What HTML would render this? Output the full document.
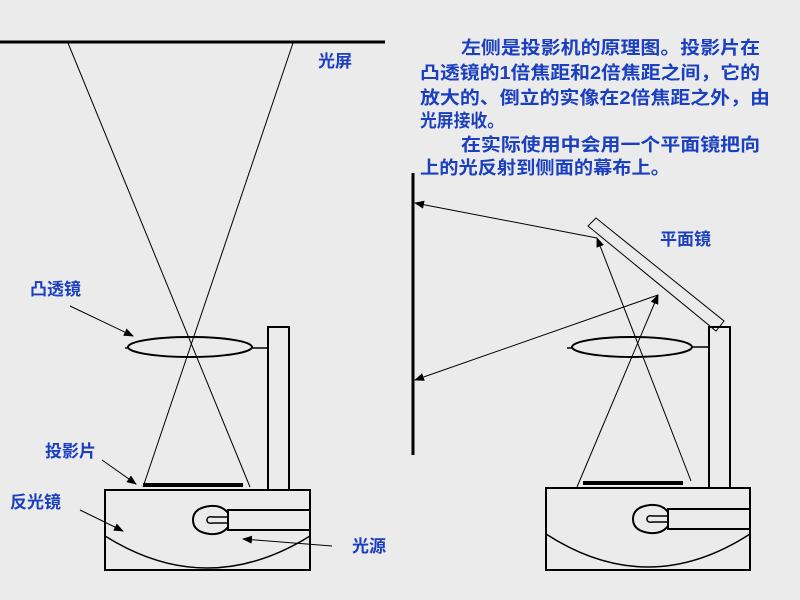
<!DOCTYPE html>
<html><head><meta charset="utf-8"><style>
html,body{margin:0;padding:0;background:#ebebeb;}
svg{display:block}
text{font-family:"Liberation Sans","Noto Sans CJK SC",sans-serif;font-weight:bold;fill:#1a3fc0}
</style></head><body>
<svg width="800" height="600" viewBox="0 0 800 600" xmlns="http://www.w3.org/2000/svg">
<defs>
<marker id="a" markerWidth="10" markerHeight="8" refX="9" refY="4" orient="auto" markerUnits="userSpaceOnUse">
<path d="M0,0 L10,4 L0,8 z" fill="#000"/></marker>
</defs>
<rect width="800" height="600" fill="#ebebeb"/>
<g stroke="#000" fill="none">
<!-- LEFT -->
<line x1="0" y1="42" x2="385" y2="42" stroke-width="3"/>
<line x1="143" y1="487" x2="293" y2="43" stroke-width="1"/>
<line x1="250" y1="487" x2="68" y2="43" stroke-width="1"/>
<ellipse cx="190" cy="347" rx="62" ry="10" stroke-width="2"/>
<line x1="125" y1="348" x2="129" y2="348" stroke-width="1.5"/>
<line x1="252" y1="348" x2="268" y2="348" stroke-width="1.5"/>
<rect x="268" y="327" width="21" height="163" stroke-width="2" fill="#ebebeb"/>
<line x1="143" y1="485" x2="243" y2="485" stroke-width="4"/>
<rect x="105" y="490" width="205" height="80" stroke-width="2"/>
<path d="M105,536 Q207,600 310,536" stroke-width="1.5"/>
<rect x="228" y="510" width="82" height="20" stroke-width="2"/>
<path d="M228,513 Q222,505 210,506 Q193,508 193,520 Q193,532 210,534 Q222,535 228,527" stroke-width="2"/>
<path d="M228,517 L213,517 Q207,516 207,520 Q207,524 213,523 L228,523" stroke-width="1.5"/>
<line x1="70" y1="306" x2="133" y2="336" marker-end="url(#a)"/>
<line x1="102" y1="460" x2="136" y2="484" marker-end="url(#a)"/>
<line x1="80" y1="510" x2="123" y2="531" marker-end="url(#a)"/>
<line x1="332" y1="546" x2="243" y2="539" marker-end="url(#a)"/>
<!-- RIGHT -->
<line x1="413" y1="173" x2="413" y2="455" stroke-width="3"/>
<line x1="577" y1="487" x2="658" y2="295" marker-end="url(#a)"/>
<line x1="691" y1="481" x2="597" y2="238" marker-end="url(#a)"/>
<line x1="597" y1="238" x2="415" y2="203" marker-end="url(#a)"/>
<line x1="658" y1="295" x2="415" y2="380" marker-end="url(#a)"/>
<polygon points="588,226 596,218 724,321 716,331" stroke-width="1" fill="none"/>
<ellipse cx="632" cy="347" rx="60" ry="10" stroke-width="2"/>
<line x1="567" y1="348" x2="572" y2="348" stroke-width="1.5"/>
<line x1="692" y1="347" x2="709" y2="347" stroke-width="1.5"/>
<rect x="709" y="327" width="21" height="161" stroke-width="2"/>
<line x1="583" y1="483" x2="683" y2="483" stroke-width="4"/>
<rect x="546" y="488" width="204" height="82" stroke-width="2"/>
<path d="M546,534 Q648,600 750,534" stroke-width="1.5"/>
<rect x="668" y="509" width="82" height="20" stroke-width="2"/>
<path d="M668,512 Q662,504 650,505 Q633,507 633,519 Q633,531 650,533 Q662,534 668,526" stroke-width="2"/>
<path d="M668,516 L653,516 Q647,515 647,519 Q647,523 653,522 L668,522" stroke-width="1.5"/>
</g>
<g font-size="17">
<text x="318" y="67">光屏</text>
<text x="30" y="295">凸透镜</text>
<text x="45" y="457">投影片</text>
<text x="10" y="508">反光镜</text>
<text x="352" y="552">光源</text>
<text x="660" y="245">平面镜</text>
</g>
<g font-size="18">
<text x="461" y="54" textLength="299" lengthAdjust="spacingAndGlyphs">左侧是投影机的原理图。投影片在</text>
<text x="420" y="79" textLength="340" lengthAdjust="spacingAndGlyphs">凸透镜的1倍焦距和2倍焦距之间，它的</text>
<text x="420" y="104" textLength="350" lengthAdjust="spacingAndGlyphs">放大的、倒立的实像在2倍焦距之外，由</text>
<text x="420" y="127" textLength="84" lengthAdjust="spacingAndGlyphs">光屏接收。</text>
<text x="461" y="151" textLength="299" lengthAdjust="spacingAndGlyphs">在实际使用中会用一个平面镜把向</text>
<text x="420" y="174" textLength="250" lengthAdjust="spacingAndGlyphs">上的光反射到侧面的幕布上。</text>
</g>
</svg>
</body></html>
